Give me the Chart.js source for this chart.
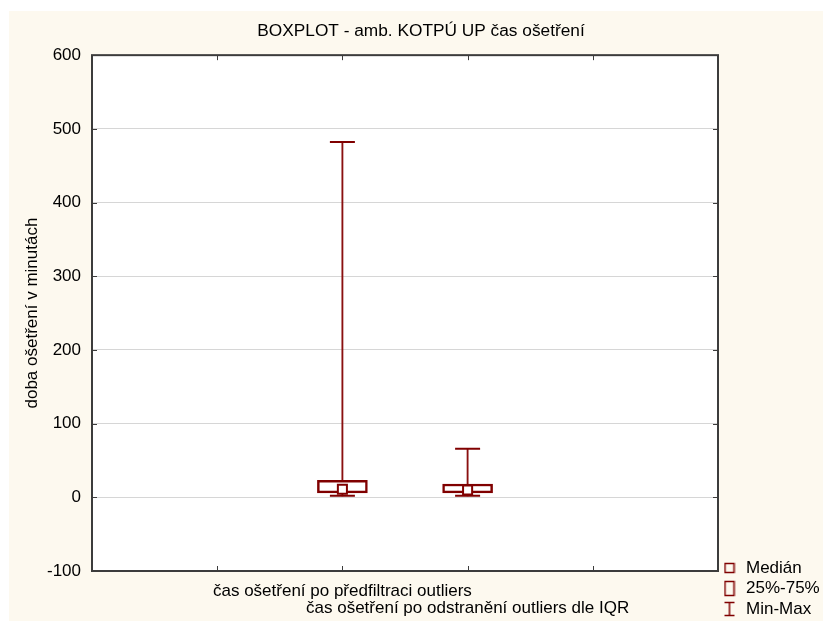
<!DOCTYPE html>
<html>
<head>
<meta charset="utf-8">
<script src="https://cdn.jsdelivr.net/npm/chart.js@4/dist/chart.umd.min.js"></script>
<style>
  html, body { margin: 0; padding: 0; background: #ffffff; }
  #wrap { width: 823px; height: 621px; }
</style>
</head>
<body>
<div id="wrap"><canvas id="c" width="823" height="621"></canvas></div>
<script>
// Treatment-time summary per data set (minutes)
const categories = ['čas ošetření po předfiltraci outliers', 'čas ošetření po odstranění outliers dle IQR'];
const minVals    = [2, 2];
const q1Vals     = [6, 6];
const medianVals = [11, 10];
const q3Vals     = [23, 18];
const maxVals    = [482, 66];
const legendLabels = ['Medián', '25%-75%', 'Min-Max'];
const chartTitle = 'BOXPLOT - amb. KOTPÚ UP čas ošetření';
const yAxisTitle = 'doba ošetření v minutách';

const DARK = '#800000';
const FONT = "'Liberation Sans', Arial, sans-serif";

// small legend glyphs
function glyph(w, h, draw) {
  const c = document.createElement('canvas');
  c.width = w; c.height = h;
  const g = c.getContext('2d');
  g.strokeStyle = DARK;
  g.lineWidth = 1.5;
  draw(g);
  return c;
}
const medianGlyph = glyph(12, 12, g => g.strokeRect(1.5, 1.5, 9, 9));
const boxGlyph = glyph(12, 17, g => g.strokeRect(1.5, 1.5, 9, 14));
const rangeGlyph = glyph(12, 16, g => {
  g.beginPath();
  g.moveTo(1, 1.5); g.lineTo(11, 1.5);
  g.moveTo(6, 1.5); g.lineTo(6, 14.5);
  g.moveTo(1, 14.5); g.lineTo(11, 14.5);
  g.stroke();
});
const legendGlyphs = [medianGlyph, boxGlyph, rangeGlyph];

const backdrop = {
  id: 'backdrop',
  beforeDraw(chart) {
    const { ctx, width, height, chartArea: a } = chart;
    ctx.save();
    ctx.fillStyle = '#ffffff';
    ctx.fillRect(0, 0, width, height);
    ctx.fillStyle = '#fdf9ef';
    ctx.fillRect(9, 11, width - 9, height - 11);
    ctx.fillStyle = '#ffffff';
    ctx.fillRect(a.left, a.top, a.right - a.left, a.bottom - a.top);
    ctx.restore();
  }
};

// plot frame with inward tick marks
const frame = {
  id: 'frame',
  beforeDatasetsDraw(chart) {
    const { ctx, chartArea: a, scales } = chart;
    ctx.save();
    ctx.strokeStyle = '#3c3c3c';
    ctx.lineWidth = 1;
    ctx.beginPath();
    scales.y.ticks.forEach(t => {
      const py = Math.round(scales.y.getPixelForValue(t.value)) + 0.5;
      ctx.moveTo(a.left, py); ctx.lineTo(a.left + 5, py);
      ctx.moveTo(a.right, py); ctx.lineTo(a.right - 5, py);
    });
    scales.x.ticks.forEach(t => {
      const px = Math.round(scales.x.getPixelForValue(t.value)) + 0.5;
      ctx.moveTo(px, a.top); ctx.lineTo(px, a.top + 5);
      ctx.moveTo(px, a.bottom); ctx.lineTo(px, a.bottom - 5);
    });
    ctx.stroke();
    ctx.lineWidth = 2;
    ctx.strokeRect(a.left, a.top, a.right - a.left, a.bottom - a.top);
    ctx.restore();
  }
};

new Chart(document.getElementById('c'), {
  type: 'bar',
  data: {
    datasets: [
      {
        label: 'Min-Max',
        type: 'bar',
        data: categories.map((c, i) => ({ x: i, y: [minVals[i], maxVals[i]] })),
        backgroundColor: '#8a1010',
        borderWidth: 0,
        barThickness: 1.2,
        grouped: false,
        order: 3
      },
      {
        label: '25%-75%',
        type: 'bar',
        data: categories.map((c, i) => ({ x: i, y: [q1Vals[i], q3Vals[i]] })),
        backgroundColor: '#ffffff',
        borderColor: DARK,
        borderWidth: 2.5,
        borderSkipped: false,
        barThickness: 50,
        grouped: false,
        order: 2
      },
      {
        label: 'caps',
        type: 'scatter',
        data: categories.flatMap((c, i) => [{ x: i, y: minVals[i] }, { x: i, y: maxVals[i] }]),
        pointStyle: 'line',
        pointRadius: 12.5,
        pointHoverRadius: 12.5,
        borderColor: DARK,
        pointBorderWidth: 2,
        order: 1
      },
      {
        label: 'Medián',
        type: 'scatter',
        data: categories.map((c, i) => ({ x: i, y: medianVals[i] })),
        pointStyle: 'rect',
        pointRadius: 6.4,
        pointHoverRadius: 6.4,
        backgroundColor: '#ffffff',
        borderColor: DARK,
        pointBorderWidth: 2,
        order: 0
      }
    ]
  },
  options: {
    responsive: false,
    animation: false,
    devicePixelRatio: 1,
    layout: { padding: { left: 19, right: 0, top: 11, bottom: 0 } },
    plugins: {
      tooltip: { enabled: false },
      title: {
        display: true,
        text: chartTitle,
        color: '#000',
        font: { family: FONT, size: 17.3, weight: 'normal', lineHeight: 1.2 },
        padding: { top: 10, bottom: 13.4 }
      },
      legend: {
        display: true,
        position: 'right',
        align: 'end',
        maxWidth: 105,
        labels: {
          color: '#000',
          font: { family: FONT, size: 17 },
          usePointStyle: true,
          pointStyleWidth: 16,
          padding: 3.5,
          generateLabels() {
            return legendLabels.map((t, i) => ({
              text: t,
              pointStyle: legendGlyphs[i],
              fillStyle: 'transparent',
              strokeStyle: 'transparent',
              lineWidth: 0,
              hidden: false,
              datasetIndex: i
            }));
          }
        },
        onClick() {}
      }
    },
    scales: {
      x: {
        type: 'linear',
        min: -2,
        max: 3,
        offset: false,
        ticks: {
          stepSize: 1,
          autoSkip: false,
          maxRotation: 0,
          minRotation: 0,
          padding: 11,
          color: '#000',
          font: { family: FONT, size: 17, lineHeight: 1.05 },
          callback(v) {
            const label = categories[v];
            if (label === undefined) return '';
            return v % 2 === 1 ? ['', label] : label;
          }
        },
        grid: { display: false, drawTicks: false, offset: false },
        border: { display: false },
        afterFit(s) { s.height = 50; }
      },
      y: {
        min: -100,
        max: 600,
        ticks: {
          stepSize: 100,
          padding: 11,
          color: '#000',
          font: { family: FONT, size: 17 }
        },
        grid: {
          drawTicks: false,
          color: c => (c.tick && (c.tick.value === -100 || c.tick.value === 600)) ? 'rgba(0,0,0,0)' : '#d6d6d6'
        },
        border: { display: false },
        title: {
          display: true,
          text: yAxisTitle,
          color: '#000',
          font: { family: FONT, size: 17 },
          padding: { top: 3, bottom: 0 }
        },
        afterFit(s) { s.width = 73; }
      }
    }
  },
  plugins: [backdrop, frame]
});
</script>
</body>
</html>
